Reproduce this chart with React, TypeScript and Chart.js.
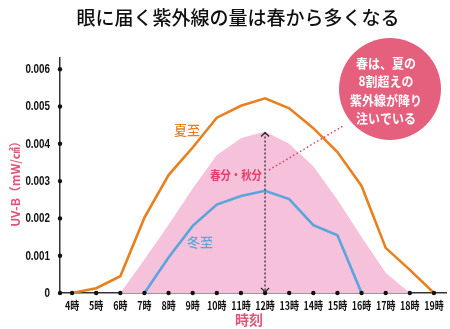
import React, { useEffect, useRef } from 'react';
import { Chart, registerables } from 'chart.js';

Chart.register(...registerables);

const hours = ['4時', '5時', '6時', '7時', '8時', '9時', '10時', '11時', '12時', '13時', '14時', '15時', '16時', '17時', '18時', '19時'];
const summer = [0, 0.00013, 0.00045, 0.00202, 0.00316, 0.0039, 0.0047, 0.00502, 0.00522, 0.00495, 0.00442, 0.00378, 0.00287, 0.00121, 0.00062, 0];
const equinox = [null, null, 0, 0.0009, 0.00183, 0.0028, 0.0037, 0.00415, 0.00433, 0.004, 0.0034, 0.0025, 0.0015, 0.00054, 0, null];
const winter = [null, null, null, 0, 0.00095, 0.0018, 0.00237, 0.0026, 0.00274, 0.00252, 0.00182, 0.00155, 0, null, null, null];
const yTicks = [0, 0.001, 0.002, 0.003, 0.004, 0.005, 0.006];
const yTickLabels = ['0', '0.001', '0.002', '0.003', '0.004', '0.005', '0.006'];

const titleText = '眼に届く紫外線の量は春から多くなる';
const yTitle = 'UV-B（mW/㎠）';
const xTitle = '時刻';
const bubbleLines = ['春は、夏の', '8割超えの', '紫外線が降り', '注いでいる'];

const ORANGE = '#e8801e';
const BLUE = '#5aa5dc';
const PINK_FILL = '#f5c1db';
const CRIMSON = '#e33d68';
const PINK_TEXT = '#e0557a';
const BUBBLE = '#e5607d';
const JP = '"Noto Sans CJK JP", sans-serif';
const NUM = '"Liberation Sans", "Noto Sans CJK JP", sans-serif';

const condensedText = (ctx: any, text: string, px: number, py: number, align: string, sx: number) => {
  ctx.save();
  ctx.translate(px, py);
  ctx.scale(sx, 1);
  ctx.textAlign = align;
  ctx.fillText(text, 0, 0);
  ctx.restore();
};

const annotPlugin = {
  id: 'annot',
  afterDraw(chart: any) {
    const { ctx, chartArea, scales } = chart;
    const x = scales.x;
    const y = scales.y;
    ctx.save();

    // title
    ctx.fillStyle = '#111';
    ctx.font = `500 19px ${JP}`;
    ctx.textAlign = 'center';
    ctx.textBaseline = 'middle';
    ctx.fillText(titleText, 238, 18);

    // axis dots
    ctx.fillStyle = '#111';
    const dot = (px: number, py: number) => {
      ctx.beginPath();
      ctx.arc(px, py, 2.2, 0, Math.PI * 2);
      ctx.fill();
    };
    yTicks.forEach((v) => dot(chartArea.left, y.getPixelForValue(v)));
    hours.forEach((_, i) => dot(x.getPixelForValue(i), chartArea.bottom));

    // tick labels (condensed)
    ctx.fillStyle = '#111';
    ctx.textBaseline = 'middle';
    ctx.font = `bold 12px ${NUM}`;
    yTicks.forEach((v, i) => condensedText(ctx, yTickLabels[i], 50, y.getPixelForValue(v) + 0.5, 'right', 0.82));
    ctx.font = `bold 11.5px ${JP}`;
    hours.forEach((h, i) => condensedText(ctx, h, x.getPixelForValue(i), 305.5, 'center', 0.78));

    // y title
    ctx.save();
    ctx.translate(15, 181);
    ctx.rotate(-Math.PI / 2);
    ctx.fillStyle = PINK_TEXT;
    ctx.font = `bold 12px ${JP}`;
    ctx.textAlign = 'center';
    ctx.textBaseline = 'middle';
    ctx.fillText(yTitle, 0, 0);
    ctx.restore();

    // x title
    ctx.fillStyle = PINK_TEXT;
    ctx.font = `bold 14px ${JP}`;
    ctx.textAlign = 'center';
    ctx.textBaseline = 'middle';
    ctx.fillText(xTitle, 249, 320);

    // series labels
    ctx.font = `500 13px ${JP}`;
    ctx.fillStyle = ORANGE;
    ctx.fillText('夏至', 187, 130);
    ctx.fillStyle = BLUE;
    ctx.fillText('冬至', 200, 242);
    ctx.fillStyle = CRIMSON;
    ctx.font = `bold 12px ${JP}`;
    condensedText(ctx, '春分・秋分', 236, 175, 'center', 0.86);

    // vertical dotted arrow at noon
    const ax = x.getPixelForValue(8);
    const top = y.getPixelForValue(equinox[8] as number);
    const bot = chartArea.bottom;
    ctx.strokeStyle = '#222';
    ctx.lineWidth = 1.2;
    ctx.setLineDash([2, 2]);
    ctx.beginPath();
    ctx.moveTo(ax, top + 1);
    ctx.lineTo(ax, bot - 1);
    ctx.stroke();
    ctx.setLineDash([]);
    ctx.beginPath();
    ctx.moveTo(ax - 4, top + 5);
    ctx.lineTo(ax, top + 1);
    ctx.lineTo(ax + 4, top + 5);
    ctx.moveTo(ax - 4, bot - 5);
    ctx.lineTo(ax, bot - 1);
    ctx.lineTo(ax + 4, bot - 5);
    ctx.stroke();

    // dotted pointer to bubble
    ctx.strokeStyle = CRIMSON;
    ctx.lineWidth = 1.5;
    ctx.setLineDash([1.5, 2.5]);
    ctx.beginPath();
    ctx.moveTo(269, 170);
    ctx.lineTo(343, 126);
    ctx.stroke();
    ctx.setLineDash([]);

    // bubble
    ctx.fillStyle = BUBBLE;
    ctx.beginPath();
    ctx.arc(390, 89, 51, 0, Math.PI * 2);
    ctx.fill();
    ctx.fillStyle = '#fff';
    ctx.font = `bold 13px ${JP}`;
    ctx.textBaseline = 'middle';
    bubbleLines.forEach((t, i) => condensedText(ctx, t, 386, 63 + i * 18.3, 'center', 0.92));

    ctx.restore();
  },
};

export default function App() {
  const ref = useRef<HTMLCanvasElement>(null);
  useEffect(() => {
    if (!ref.current) return;
    const chart = new Chart(ref.current, {
      type: 'line',
      data: {
        labels: hours,
        datasets: [
          {
            label: '冬至',
            data: winter,
            borderColor: BLUE,
            borderWidth: 2.6,
            pointRadius: 0,
            fill: false,
            order: 1,
          },
          {
            label: '夏至',
            data: summer,
            borderColor: ORANGE,
            borderWidth: 2.6,
            pointRadius: 0,
            fill: false,
            order: 2,
          },
          {
            label: '春分・秋分',
            data: equinox,
            borderWidth: 0,
            borderColor: 'rgba(0,0,0,0)',
            backgroundColor: PINK_FILL,
            pointRadius: 0,
            fill: 'origin',
            order: 3,
          },
        ],
      },
      options: {
        responsive: false,
        animation: false,
        layout: { padding: { top: 58, right: 4, left: 0, bottom: 0 } },
        plugins: { legend: { display: false }, tooltip: { enabled: false }, title: { display: false } },
        scales: {
          x: {
            type: 'category',
            offset: true,
            grid: { display: false, drawTicks: false },
            border: { display: true, color: '#333', width: 1.5 },
            ticks: { display: false, autoSkip: false },
            afterFit: (s: any) => {
              s.height = 36;
            },
          },
          y: {
            min: 0,
            max: 0.0063,
            grid: { display: false, drawTicks: false },
            border: { display: true, color: '#333', width: 1.5 },
            ticks: { display: false, stepSize: 0.001, includeBounds: false },
            afterFit: (s: any) => {
              s.width = 60;
            },
          },
        },
      },
      plugins: [annotPlugin],
    });
    return () => chart.destroy();
  }, []);
  return (
    <div style={{ position: 'absolute', left: 0, top: 0, width: 450, height: 329, background: '#fff' }}>
      <canvas ref={ref} width={450} height={329} style={{ display: 'block' }} />
    </div>
  );
}
